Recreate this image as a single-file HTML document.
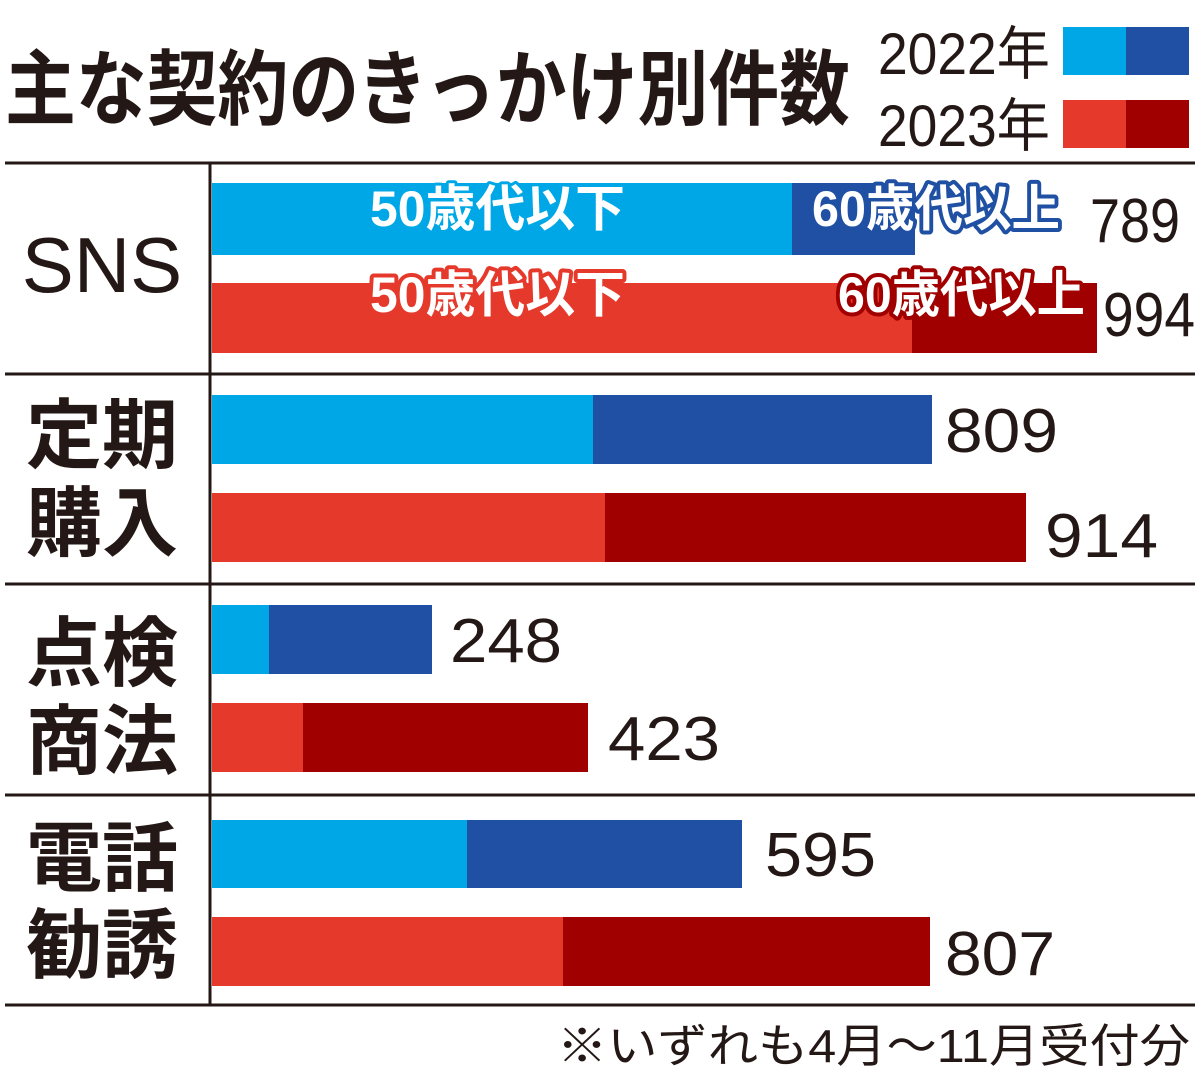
<!DOCTYPE html>
<html><head><meta charset="utf-8"><style>
html,body{margin:0;padding:0;background:#fff;}
svg{display:block;}
text{font-family:"Liberation Sans","Noto Sans CJK JP",sans-serif;}
</style></head><body>
<svg width="1200" height="1081" viewBox="0 0 1200 1081">
<rect width="1200" height="1081" fill="#fff"/>
<text x="5" y="118" font-size="82" font-weight="700" fill="#231815" textLength="845" lengthAdjust="spacingAndGlyphs">主な契約のきっかけ別件数</text>
<text x="878" y="74" font-size="58" fill="#231815" textLength="172" lengthAdjust="spacingAndGlyphs">2022年</text>
<text x="878" y="146" font-size="58" fill="#231815" textLength="172" lengthAdjust="spacingAndGlyphs">2023年</text>
<rect x="1063" y="27" width="63" height="48" fill="#00a7e6"/><rect x="1126" y="27" width="63" height="48" fill="#1f50a3"/>
<rect x="1063" y="100" width="63" height="48" fill="#e5392b"/><rect x="1126" y="100" width="63" height="48" fill="#a10000"/>
<g stroke="#231815" stroke-width="3">
<line x1="5" y1="163" x2="1195" y2="163"/><line x1="5" y1="374" x2="1195" y2="374"/>
<line x1="5" y1="584" x2="1195" y2="584"/><line x1="5" y1="795" x2="1195" y2="795"/>
<line x1="5" y1="1005" x2="1195" y2="1005"/><line x1="210" y1="163" x2="210" y2="1005"/>
</g>
<rect x="212" y="183" width="580" height="72" fill="#00a7e6"/><rect x="792" y="183" width="123" height="72" fill="#1f50a3"/>
<rect x="212" y="283" width="700" height="70" fill="#e5392b"/><rect x="912" y="283" width="185" height="70" fill="#a10000"/>
<rect x="212" y="395" width="381" height="69" fill="#00a7e6"/><rect x="593" y="395" width="339" height="69" fill="#1f50a3"/>
<rect x="212" y="493" width="393" height="69" fill="#e5392b"/><rect x="605" y="493" width="421" height="69" fill="#a10000"/>
<rect x="212" y="605" width="57" height="69" fill="#00a7e6"/><rect x="269" y="605" width="163" height="69" fill="#1f50a3"/>
<rect x="212" y="703" width="91" height="69" fill="#e5392b"/><rect x="303" y="703" width="285" height="69" fill="#a10000"/>
<rect x="212" y="820" width="255" height="68" fill="#00a7e6"/><rect x="467" y="820" width="275" height="68" fill="#1f50a3"/>
<rect x="212" y="917" width="351" height="69" fill="#e5392b"/><rect x="563" y="917" width="367" height="69" fill="#a10000"/>
<g font-size="50" font-weight="700" fill="#fff" paint-order="stroke" stroke-linejoin="round">
<text x="370" y="226" textLength="255" lengthAdjust="spacingAndGlyphs" stroke="#00a7e6" stroke-width="6">50歳代以下</text>
<text x="812" y="226" textLength="248" lengthAdjust="spacingAndGlyphs" stroke="#1f50a3" stroke-width="8">60歳代以上</text>
<text x="370" y="312" textLength="255" lengthAdjust="spacingAndGlyphs" stroke="#e5392b" stroke-width="8">50歳代以下</text>
<text x="838" y="312" textLength="247" lengthAdjust="spacingAndGlyphs" stroke="#a10000" stroke-width="8">60歳代以上</text>
</g>
<g font-size="62" fill="#231815" lengthAdjust="spacingAndGlyphs">
<text x="1090" y="242" textLength="90" lengthAdjust="spacingAndGlyphs">789</text>
<text x="1103" y="336" textLength="92" lengthAdjust="spacingAndGlyphs">994</text>
<text x="945" y="452" textLength="113" lengthAdjust="spacingAndGlyphs">809</text>
<text x="1045" y="557" textLength="113" lengthAdjust="spacingAndGlyphs">914</text>
<text x="450" y="662" textLength="112" lengthAdjust="spacingAndGlyphs">248</text>
<text x="608" y="760" textLength="112" lengthAdjust="spacingAndGlyphs">423</text>
<text x="765" y="876" textLength="111" lengthAdjust="spacingAndGlyphs">595</text>
<text x="945" y="975" textLength="110" lengthAdjust="spacingAndGlyphs">807</text>
</g>
<g font-size="76" font-weight="700" fill="#231815" text-anchor="middle">
<text x="102" y="292" font-weight="400" font-size="78">SNS</text>
<text x="102" y="462">定期</text><text x="102" y="550">購入</text>
<text x="102" y="680">点検</text><text x="102" y="768">商法</text>
<text x="102" y="885">電話</text><text x="102" y="972">勧誘</text>
</g>
<text x="557" y="1062" font-size="46" fill="#231815" textLength="633" lengthAdjust="spacingAndGlyphs">※いずれも4月～11月受付分</text>
</svg>
</body></html>
